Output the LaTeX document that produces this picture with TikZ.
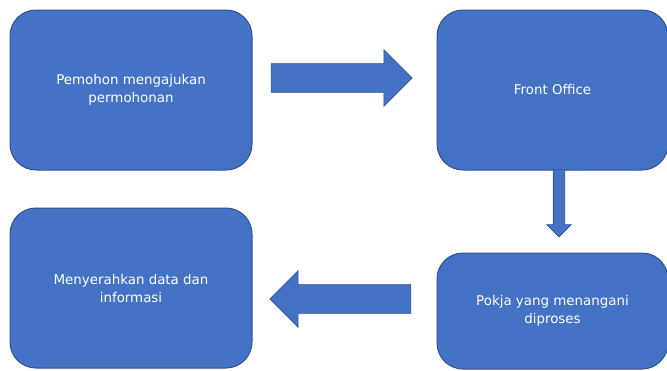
\documentclass[tikz,border=0pt]{standalone}
\usepackage{fontspec}
\setmainfont{DejaVu Sans}
\usepackage{xcolor}
\usetikzlibrary{shapes.arrows, positioning}
\definecolor{boxblue}{HTML}{4472C4}
\definecolor{lineblue}{HTML}{2F528F}

\begin{document}
\begin{tikzpicture}[
    x=1pt, y=-1pt,
    node distance=184pt,
    stage/.style={rectangle, rounded corners=26pt, draw=lineblue, line width=1pt, fill=boxblue, text=white, minimum width=242pt, minimum height=160pt, align=center, font=\fontsize{13.4}{18}\selectfont},
    flow/.style={single arrow, draw=lineblue, line width=0.6pt, fill=boxblue, inner sep=14pt, single arrow head extend=14pt, minimum width=56pt, minimum height=141pt}
]
\useasboundingbox (0,0) rectangle (667,370);

% Boxes
\node[stage] (pemohon) at (131,90) {Pemohon mengajukan\\permohonan};
\node[stage, right=of pemohon, minimum width=231pt] (front) {Front Office};
\node[stage, below=82pt of front, minimum width=231pt, minimum height=116pt] (pokja) {Pokja yang menangani\\diproses};
\node[stage] (serah) at (131,288) {Menyerahkan data dan\\informasi};

% Arrows
\node[flow] (pemohon-front) at (334.5,78) {};
\node[flow, shape border rotate=270, inner sep=5.5pt, minimum height=67pt, minimum width=24pt, single arrow head extend=6.5pt] (front-pokja) at (559,200.5) {};
\node[flow, shape border rotate=180] (pokja-serah) at (347.5,299) {};

\end{tikzpicture}
\end{document}
